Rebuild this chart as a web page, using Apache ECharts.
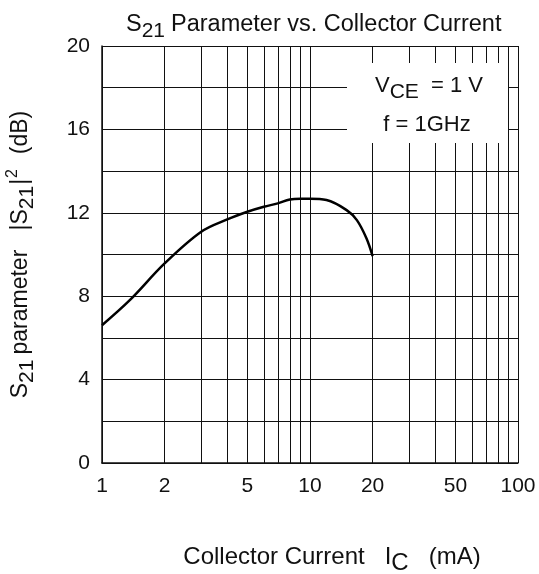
<!DOCTYPE html>
<html>
<head>
<meta charset="utf-8">
<script src="https://cdn.jsdelivr.net/npm/echarts@6/dist/echarts.min.js"></script>
<style>
html,body{margin:0;padding:0;background:#fff;}
#chart{width:539px;height:574px;}
</style>
</head>
<body>
<div id="chart"></div>
<script>
// Collector current (mA) and |S21|^2 (dB)
var current = [1, 1.36, 2, 3, 4, 5, 6, 7, 8, 9, 10, 12, 15, 16.8, 18.7, 20];
var gain = [6.61, 7.81, 9.57, 11.09, 11.68, 12.05, 12.29, 12.45, 12.64, 12.67, 12.67, 12.61, 12.13, 11.65, 10.77, 9.92];
var xTickLabels = [1, 2, 5, 10, 20, 50, 100];
var xMinorGrid = [2, 3, 4, 5, 6, 7, 8, 9, 20, 30, 40, 50, 60, 70, 80, 90];
var yTickLabels = [0, 4, 8, 12, 16, 20];

var FONT = "'Liberation Sans', Arial, sans-serif";
var chart = echarts.init(document.getElementById('chart'), null, {renderer: 'canvas'});

var points = current.map(function (c, i) { return [c, gain[i]]; });

var option = {
  backgroundColor: '#fff',
  animation: false,
  title: {
    text: 'S{sub|21}Parameter vs. Collector Current',
    left: 121,
    top: 3,
    textStyle: {
      fontFamily: FONT, fontSize: 23.5, fontWeight: 'normal', color: '#111',
      rich: {
        sub: {fontFamily: FONT, fontSize: 21, color: '#111', padding: [13, 6, 0, 0]}
      }
    }
  },
  grid: {left: 102, right: 21, top: 46, bottom: 111, containLabel: false, outerBoundsMode: 'none'},
  xAxis: {
    type: 'log',
    logBase: 10,
    min: 1,
    max: 100,
    name: 'Collector Current   I{sub|C}   (mA)',
    nameLocation: 'middle',
    nameGap: 77,
    nameTextStyle: {
      fontFamily: FONT, fontSize: 24, color: '#111', padding: [0, 0, 0, 44],
      rich: {sub: {fontFamily: FONT, fontSize: 24, color: '#111', padding: [11, 0, 0, 0]}}
    },
    axisLine: {show: true, lineStyle: {color: '#111', width: 1.5}},
    axisTick: {show: false},
    axisLabel: {
      customValues: xTickLabels,
      fontFamily: FONT, fontSize: 21, color: '#111', margin: 13,
      formatter: function (v) { return String(Math.round(v)); }
    },
    splitLine: {show: true, lineStyle: {color: '#111', width: 1}},
    minorTick: {show: false},
    minorSplitLine: {show: false}
  },
  yAxis: {
    type: 'value',
    min: 0,
    max: 20,
    interval: 2,
    name: 'S{sub|21}parameter   |S{sub2|21}|{sup|2}  (dB)',
    nameLocation: 'middle',
    nameGap: 64,
    nameRotate: 90,
    nameTextStyle: {
      fontFamily: FONT, fontSize: 23, color: '#111',
      rich: {
        sub: {fontFamily: FONT, fontSize: 21, color: '#111', padding: [13, 5, 0, 0]},
        sub2: {fontFamily: FONT, fontSize: 21, color: '#111', padding: [13, 1, 0, 0]},
        sup: {fontFamily: FONT, fontSize: 16, color: '#111', padding: [0, 2, 16, 1]}
      }
    },
    axisLine: {show: true, lineStyle: {color: '#111', width: 1.5}},
    axisTick: {show: false},
    axisLabel: {
      fontFamily: FONT, fontSize: 21, color: '#111', margin: 12,
      formatter: function (v) { return yTickLabels.indexOf(v) >= 0 ? String(v) : ''; }
    },
    splitLine: {show: true, lineStyle: {color: '#111', width: 1}}
  },
  series: [{
    type: 'line',
    data: points,
    smooth: 0.35,
    symbol: 'none',
    lineStyle: {color: '#000', width: 2.5},
    z: 5,
    markLine: {
      silent: true,
      symbol: ['none', 'none'],
      label: {show: false},
      lineStyle: {color: '#111', width: 1, type: 'solid'},
      data: xMinorGrid.map(function (v) { return {xAxis: v}; }),
      z: 1
    }
  }],
  graphic: [
    {
      type: 'rect',
      z: 100,
      shape: {x: 347, y: 63, width: 161, height: 80},
      style: {fill: '#fff'}
    },
    {
      type: 'text',
      z: 101,
      x: 429, y: 86,
      style: {
        text: 'V{sub|CE}  = 1 V',
        fontFamily: FONT, fontSize: 22, fill: '#111',
        align: 'center', verticalAlign: 'middle',
        rich: {sub: {fontFamily: FONT, fontSize: 21, fill: '#111', padding: [12, 0, 0, 0]}}
      }
    },
    {
      type: 'text',
      z: 101,
      x: 427, y: 125,
      style: {
        text: 'f = 1GHz',
        fontFamily: FONT, fontSize: 22, fill: '#111',
        align: 'center', verticalAlign: 'middle'
      }
    }
  ]
};
chart.setOption(option);
</script>
</body>
</html>
